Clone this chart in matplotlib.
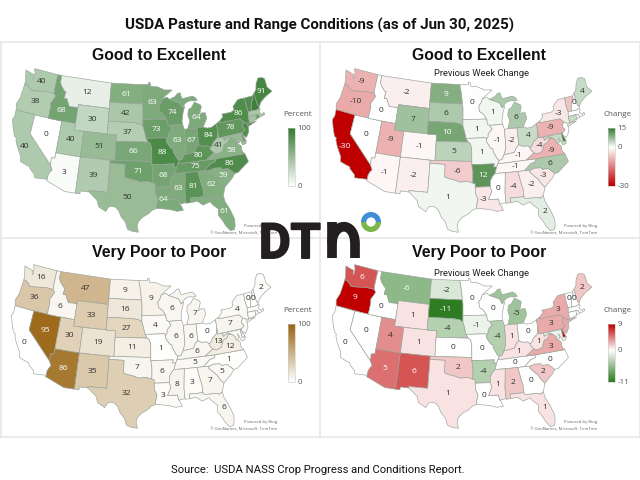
import numpy as np
import matplotlib
matplotlib.use("Agg")
import matplotlib.pyplot as plt
from matplotlib.colors import LinearSegmentedColormap, Normalize, TwoSlopeNorm
from matplotlib.patches import Circle, Polygon, Rectangle, Wedge, PathPatch
from matplotlib.path import Path
from matplotlib.patheffects import withStroke

STATES = ["WA", "OR", "CA", "NV", "ID", "MT", "WY", "UT", "AZ", "CO", "NM", "ND", "SD", "NE", "KS", "OK", "TX",
          "MN", "IA", "MO", "AR", "LA", "WI", "IL", "MI", "IN", "OH", "KY", "TN", "MS", "AL", "GA", "FL", "SC",
          "NC", "VA", "WV", "PA", "NY", "ME", "VT", "NH", "MA", "CT", "RI", "NJ", "DE", "MD"]
GOOD = [40, 38, 40, 0, 68, 12, 30, 40, 3, 51, 39, 61, 42, 37, 66, 71, 50,
        63, 73, 88, 68, 64, 74, 63, 64, 67, 84, 80, 75, 63, 81, 62, 61, 59,
        86, 58, 41, 78, 86, 91, 85, 95, 42, 45, 75, 85, 72, 52]
GOOD_CHG = [-9, -10, -30, 0, 0, -2, 7, -9, -1, -1, -2, 9, 6, 10, 5, -6, 1,
            0, 1, 1, 12, -3, 1, -1, 6, -2, 4, -1, -1, 0, -4, -2, 2, -3,
            6, -9, -4, -9, -3, 4, -7, 0, 0, 4, 0, 0, 15, 4]
POOR = [16, 36, 0, 95, 6, 47, 33, 30, 86, 19, 35, 9, 16, 27, 11, 7, 32,
        9, 4, 1, 6, 3, 6, 6, 7, 6, 0, 6, 5, 8, 3, 7, 6, 5,
        1, 12, 13, 7, 4, 2, 0, 0, 1, 1, 0, 3, 4, 4]
POOR_CHG = [6, 9, 0, 0, 0, -6, 1, 4, 5, 1, 6, -2, -11, -4, 0, 2, 1,
            0, -1, 0, -4, 0, 0, -4, -5, 1, 0, 1, 0, 1, 2, 0, 1, 2,
            0, 3, 1, 3, 3, 2, 0, 0, 0, 0, 0, 3, 9, -1]
SMALL = ["MA", "CT", "RI", "NJ", "DE", "MD"]

OUTLINES = {
    "WA": [(-124.7, 48.4), (-123.2, 48.15), (-122.7, 48.1), (-122.5, 47.4), (-122.3, 47.6), (-122.4, 48.3), (-122.8, 49), (-117.03, 49), (-117.04, 46.42), (-116.92, 45.99), (-118.98, 46), (-119.3, 45.93), (-121.2, 45.65), (-122.3, 45.55), (-122.8, 45.9), (-123.4, 46.2), (-124, 46.27), (-124.1, 46.9)],
    "OR": [(-124, 46.27), (-123.4, 46.2), (-122.8, 45.9), (-122.3, 45.55), (-121.2, 45.65), (-119.3, 45.93), (-118.98, 46), (-116.92, 45.99), (-116.47, 45.6), (-116.85, 44.95), (-117.22, 44.4), (-117.03, 43.83), (-117.03, 42), (-124.2, 42), (-124.55, 42.85), (-124.1, 44)],
    "CA": [(-124.2, 42), (-120, 42), (-120, 39), (-114.63, 35), (-114.14, 34.3), (-114.43, 34), (-114.72, 33.4), (-114.72, 32.72), (-117.12, 32.53), (-117.3, 33), (-118.4, 33.75), (-118.5, 34.03), (-119.2, 34.15), (-120.5, 34.45), (-120.65, 35.15), (-121.9, 36.6), (-122.5, 37.5), (-122.5, 37.8), (-123, 38), (-123.8, 39.3), (-124.35, 40.4), (-124.1, 41)],
    "NV": [(-120, 42), (-114.04, 42), (-114.04, 36.2), (-114.75, 36.1), (-114.63, 35), (-120, 39)],
    "ID": [(-117.03, 49), (-116.05, 49), (-116.05, 48), (-115.7, 47.45), (-114.7, 46.7), (-114.35, 46.65), (-114.5, 45.55), (-113.9, 45.65), (-113.45, 45.05), (-113, 44.45), (-111.5, 44.55), (-111.05, 44.48), (-111.05, 42), (-117.03, 42), (-117.03, 43.83), (-117.22, 44.4), (-116.85, 44.95), (-116.47, 45.6), (-116.92, 45.99), (-117.04, 46.42)],
    "MT": [(-116.05, 49), (-104.05, 49), (-104.05, 45), (-111.05, 45), (-111.05, 44.48), (-111.5, 44.55), (-113, 44.45), (-113.45, 45.05), (-113.9, 45.65), (-114.5, 45.55), (-114.35, 46.65), (-114.7, 46.7), (-115.7, 47.45), (-116.05, 48)],
    "WY": [(-111.05, 45), (-104.05, 45), (-104.05, 41), (-111.05, 41)],
    "UT": [(-114.04, 42), (-111.05, 42), (-111.05, 41), (-109.05, 41), (-109.05, 37), (-114.04, 37)],
    "AZ": [(-114.04, 37), (-109.05, 37), (-109.05, 31.33), (-111.07, 31.33), (-114.81, 32.5), (-114.72, 32.72), (-114.72, 33.4), (-114.43, 34), (-114.14, 34.3), (-114.63, 35), (-114.75, 36.1), (-114.04, 36.2)],
    "CO": [(-109.05, 41), (-102.05, 41), (-102.05, 37), (-109.05, 37)],
    "NM": [(-109.05, 37), (-103, 37), (-103.04, 32), (-106.62, 32), (-106.53, 31.78), (-108.2, 31.78), (-108.2, 31.33), (-109.05, 31.33)],
    "ND": [(-104.05, 49), (-97.23, 49), (-96.85, 47.6), (-96.56, 45.94), (-104.05, 45.94)],
    "SD": [(-104.05, 45.94), (-96.56, 45.94), (-96.45, 45.3), (-96.45, 43.5), (-96.45, 42.5), (-97.2, 42.85), (-98.5, 43), (-104.05, 43)],
    "NE": [(-104.05, 43), (-98.5, 43), (-97.2, 42.85), (-96.45, 42.5), (-96.1, 41.7), (-95.9, 41), (-95.31, 40), (-102.05, 40), (-102.05, 41), (-104.05, 41)],
    "KS": [(-102.05, 40), (-95.31, 40), (-94.9, 39.8), (-94.61, 39.1), (-94.62, 37), (-102.05, 37)],
    "OK": [(-103, 37), (-94.62, 37), (-94.62, 36.5), (-94.43, 35.4), (-94.48, 33.64), (-95.5, 33.9), (-97, 33.8), (-98, 34.1), (-99.2, 34.3), (-100, 34.56), (-100, 36.5), (-103, 36.5)],
    "TX": [(-103, 36.5), (-100, 36.5), (-100, 34.56), (-99.2, 34.3), (-98, 34.1), (-97, 33.8), (-95.5, 33.9), (-94.48, 33.64), (-94.04, 33.55), (-94.04, 33), (-94.04, 32), (-93.55, 31.2), (-93.85, 30.2), (-93.85, 29.7), (-94.7, 29.4), (-95.3, 28.9), (-96.5, 28.3), (-97.2, 27.6), (-97.4, 26.9), (-97.15, 25.96), (-98.2, 26.07), (-99.1, 26.4), (-99.5, 27.5), (-100.3, 28.3), (-100.8, 29.25), (-101.4, 29.77), (-102.3, 29.88), (-102.7, 29.7), (-103.15, 28.98), (-104.5, 29.65), (-104.9, 30.6), (-106.53, 31.78), (-106.62, 32), (-103.04, 32)],
    "MN": [(-97.23, 49), (-95.15, 49), (-95.15, 49.38), (-94.8, 49.3), (-94.6, 48.72), (-93, 48.6), (-91.4, 48.07), (-89.6, 48), (-92, 46.7), (-92.3, 46.1), (-92.85, 45.6), (-92.75, 44.75), (-91.9, 44.3), (-91.22, 43.5), (-96.45, 43.5), (-96.45, 45.3), (-96.56, 45.94), (-96.85, 47.6)],
    "IA": [(-96.45, 43.5), (-91.22, 43.5), (-91.1, 42.7), (-90.64, 42.5), (-90.15, 41.9), (-91.05, 41.2), (-91.1, 40.7), (-91.42, 40.38), (-91.73, 40.61), (-95.77, 40.58), (-95.9, 41), (-96.1, 41.7), (-96.45, 42.5)],
    "MO": [(-95.77, 40.58), (-91.73, 40.61), (-91.42, 40.38), (-91.5, 40), (-90.7, 39), (-90.2, 38.8), (-90.2, 38.4), (-89.5, 37.3), (-89.13, 36.98), (-89.4, 36.5), (-89.7, 36), (-90.37, 36), (-90.15, 36.5), (-94.62, 36.5), (-94.62, 37), (-94.61, 39.1), (-94.9, 39.8), (-95.31, 40)],
    "AR": [(-94.62, 36.5), (-90.15, 36.5), (-90.37, 36), (-89.7, 36), (-90.1, 35), (-90.6, 34.6), (-91.1, 33.9), (-91.17, 33), (-94.04, 33), (-94.04, 33.55), (-94.48, 33.64), (-94.43, 35.4)],
    "LA": [(-94.04, 33), (-91.17, 33), (-90.9, 32.3), (-91.6, 31), (-89.75, 31), (-89.6, 30.2), (-89.4, 30.05), (-89, 29.2), (-90.2, 29.1), (-91.3, 29.4), (-92.3, 29.55), (-93.85, 29.7), (-93.85, 30.2), (-93.55, 31.2), (-94.04, 32)],
    "WI": [(-92, 46.7), (-90.8, 46.9), (-90.4, 46.55), (-88.1, 45.9), (-87.6, 45.1), (-87, 45.3), (-87.5, 44.3), (-87.9, 43), (-87.8, 42.5), (-90.64, 42.5), (-91.1, 42.7), (-91.22, 43.5), (-91.9, 44.3), (-92.75, 44.75), (-92.85, 45.6), (-92.3, 46.1)],
    "IL": [(-91.42, 40.38), (-91.1, 40.7), (-91.05, 41.2), (-90.15, 41.9), (-90.64, 42.5), (-87.8, 42.5), (-87.52, 41.7), (-87.53, 39.3), (-87.6, 38.7), (-88.05, 37.8), (-88.5, 37.1), (-89.13, 36.98), (-89.5, 37.3), (-90.2, 38.4), (-90.2, 38.8), (-90.7, 39), (-91.5, 40)],
    "MI": [(-86.8, 41.76), (-84.8, 41.72), (-83.45, 41.73), (-83.1, 42.2), (-82.45, 43), (-82.6, 43.9), (-83.4, 43.95), (-83.9, 43.7), (-83.3, 44.9), (-83.4, 45.2), (-84.7, 45.78), (-85.5, 45), (-86.25, 44.7), (-86.5, 43.9), (-86.2, 42.9)],
    "MI2": [(-90.4, 46.55), (-89, 46.95), (-88.4, 47.4), (-87.8, 47.45), (-87.6, 46.85), (-87.4, 46.5), (-86, 46.65), (-85, 46.75), (-84.4, 46.45), (-84, 46), (-84.7, 45.95), (-85.6, 46.05), (-86.6, 45.85), (-87.6, 45.1), (-88.1, 45.9)],
    "IN": [(-87.52, 41.7), (-86.8, 41.76), (-84.8, 41.72), (-84.82, 39.1), (-85.4, 38.73), (-85.9, 38), (-87, 37.9), (-88.05, 37.8), (-87.6, 38.7), (-87.53, 39.3)],
    "OH": [(-84.8, 41.72), (-83.45, 41.73), (-82.7, 41.5), (-81.7, 41.5), (-80.52, 41.98), (-80.52, 40.64), (-80.85, 39.7), (-81.75, 39.2), (-82.2, 38.6), (-82.6, 38.4), (-83, 38.72), (-84.2, 38.8), (-84.82, 39.1)],
    "KY": [(-89.4, 36.5), (-88.07, 36.5), (-83.68, 36.6), (-81.97, 37.54), (-82.6, 38.17), (-82.6, 38.4), (-83, 38.72), (-84.2, 38.8), (-84.82, 39.1), (-85.4, 38.73), (-85.9, 38), (-87, 37.9), (-88.05, 37.8), (-88.5, 37.1), (-89.13, 36.98)],
    "TN": [(-90.1, 35), (-88.2, 35), (-85.6, 35), (-84.32, 35), (-82.9, 35.95), (-82, 36.12), (-81.68, 36.59), (-83.68, 36.6), (-88.07, 36.5), (-89.4, 36.5), (-89.7, 36)],
    "MS": [(-91.17, 33), (-91.1, 33.9), (-90.6, 34.6), (-90.1, 35), (-88.2, 35), (-88.1, 34.9), (-88.45, 31.9), (-88.4, 30.35), (-89.6, 30.2), (-89.75, 31), (-91.6, 31), (-90.9, 32.3)],
    "AL": [(-88.2, 35), (-85.6, 35), (-85.18, 32.87), (-85, 32.3), (-85, 31), (-87.6, 31), (-87.5, 30.3), (-88.4, 30.25), (-88.45, 31.9), (-88.1, 34.9)],
    "GA": [(-85.6, 35), (-83.1, 35), (-83.35, 34.7), (-81.9, 33.4), (-81.4, 32.6), (-80.85, 32.03), (-81.4, 30.75), (-82.05, 30.36), (-82.2, 30.57), (-84.86, 30.7), (-85, 31), (-85, 32.3), (-85.18, 32.87)],
    "FL": [(-87.6, 31), (-85, 31), (-84.86, 30.7), (-82.2, 30.57), (-82.05, 30.36), (-81.4, 30.75), (-81.25, 29.8), (-80.55, 28.4), (-80.03, 26.8), (-80.15, 25.75), (-80.4, 25.2), (-81.1, 25.15), (-81.75, 26), (-82.2, 26.9), (-82.8, 27.8), (-82.65, 28.8), (-83.6, 29.6), (-84, 30.1), (-85.3, 29.7), (-86.3, 30.4), (-87.5, 30.3)],
    "SC": [(-83.35, 34.7), (-83.1, 35), (-82.3, 35.2), (-81.05, 35.1), (-80.8, 34.82), (-79.67, 34.8), (-78.55, 33.86), (-79.2, 33.2), (-80.85, 32.03), (-81.4, 32.6), (-81.9, 33.4)],
    "NC": [(-84.32, 35), (-83.1, 35), (-82.3, 35.2), (-81.05, 35.1), (-80.8, 34.82), (-79.67, 34.8), (-78.55, 33.86), (-77.9, 33.9), (-76.5, 34.7), (-75.5, 35.25), (-75.87, 36.55), (-81.68, 36.59), (-82, 36.12), (-82.9, 35.95)],
    "VA": [(-83.68, 36.6), (-81.68, 36.59), (-75.87, 36.55), (-76.3, 37), (-76.3, 37.9), (-77, 38.3), (-77.05, 38.8), (-77.7, 39.3), (-78.35, 39.4), (-78.9, 38.8), (-79.65, 38.6), (-80.3, 37.55), (-81.3, 37.3), (-81.97, 37.54)],
    "WV": [(-81.97, 37.54), (-81.3, 37.3), (-80.3, 37.55), (-79.65, 38.6), (-78.9, 38.8), (-78.35, 39.4), (-77.7, 39.3), (-78.4, 39.6), (-79.48, 39.2), (-79.48, 39.72), (-80.52, 39.72), (-80.52, 40.64), (-80.85, 39.7), (-81.75, 39.2), (-82.2, 38.6), (-82.6, 38.4), (-82.6, 38.17)],
    "PA": [(-80.52, 41.98), (-79.76, 42.27), (-79.76, 42), (-75.35, 42), (-74.7, 41.36), (-75.1, 40.95), (-75.2, 40.65), (-74.75, 40.2), (-75.4, 39.8), (-80.52, 39.72), (-80.52, 40.64)],
    "NY": [(-79.76, 42.27), (-78.9, 42.85), (-79.05, 43.27), (-77, 43.28), (-76.2, 43.55), (-76.3, 44.1), (-75, 44.95), (-74.7, 45), (-73.35, 45), (-73.4, 43.6), (-73.27, 42.75), (-73.5, 42.05), (-73.5, 41.3), (-73.65, 41), (-72, 41.05), (-73.95, 40.55), (-74.05, 40.7), (-73.9, 41), (-74.7, 41.36), (-75.35, 42), (-79.76, 42)],
    "ME": [(-71.08, 45.3), (-70.4, 45.8), (-70, 46.7), (-69.23, 47.46), (-68.3, 47.35), (-67.8, 47.07), (-67.8, 45.7), (-67, 44.85), (-68.8, 44.3), (-70, 43.75), (-70.7, 43.07), (-70.98, 43.4)],
    "VT": [(-73.35, 45), (-71.5, 45), (-71.5, 44.6), (-72.05, 44.1), (-72.45, 43.1), (-72.46, 42.73), (-73.27, 42.75), (-73.4, 43.6)],
    "NH": [(-71.5, 45), (-71.08, 45.3), (-70.98, 43.4), (-70.7, 43.07), (-70.8, 42.87), (-71.3, 42.7), (-72.46, 42.73), (-72.45, 43.1), (-72.05, 44.1), (-71.5, 44.6)],
    "MA": [(-73.5, 42.05), (-73.27, 42.75), (-72.46, 42.73), (-71.3, 42.7), (-70.8, 42.87), (-70.6, 42.65), (-71, 42.3), (-70.55, 41.8), (-70, 42.05), (-69.95, 41.7), (-70.7, 41.55), (-71.15, 41.5), (-71.38, 42.02), (-71.8, 42.02)],
    "RI": [(-71.8, 42.02), (-71.38, 42.02), (-71.15, 41.5), (-71.85, 41.32)],
    "CT": [(-73.5, 42.05), (-71.8, 42.02), (-71.85, 41.32), (-73.65, 41), (-73.5, 41.3)],
    "NJ": [(-74.7, 41.36), (-73.9, 41), (-74.05, 40.7), (-74, 40.4), (-74.1, 39.75), (-74.9, 38.93), (-75.55, 39.5), (-75.4, 39.8), (-74.75, 40.2), (-75.2, 40.65), (-75.1, 40.95)],
    "DE": [(-75.79, 39.72), (-75.4, 39.8), (-75.55, 39.5), (-75.05, 38.45), (-75.7, 38.46)],
    "MD": [(-79.48, 39.72), (-75.79, 39.72), (-75.7, 38.46), (-75.05, 38.45), (-75.25, 38.03), (-75.9, 37.95), (-76.2, 38.6), (-76.5, 39.2), (-76.45, 38.4), (-77, 38.3), (-77.05, 38.8), (-77.7, 39.3), (-78.4, 39.6), (-79.48, 39.2)],
}

LABEL_AT = {
    "WA": (-120.4, 47.35), "OR": (-120.6, 44), "CA": (-120.4, 36.9), "NV": (-116.7, 39.5), "ID": (-114.6, 43.6),
    "MT": (-109.6, 47), "WY": (-107.5, 43), "UT": (-111.6, 39.4), "AZ": (-111.7, 34.3), "CO": (-105.5, 39),
    "NM": (-106, 34.4), "ND": (-100.4, 47.4), "SD": (-100.3, 44.4), "NE": (-99.8, 41.5), "KS": (-98.4, 38.5),
    "OK": (-97.4, 35.5), "TX": (-99.3, 31.4), "MN": (-94.4, 46.1), "IA": (-93.5, 42), "MO": (-92.5, 38.3),
    "AR": (-92.4, 34.8), "LA": (-92.5, 31), "WI": (-89.8, 44.5), "IL": (-89.2, 40), "MI": (-84.7, 43.4),
    "IN": (-86.2, 39.9), "OH": (-82.7, 40.3), "KY": (-85.2, 37.5), "TN": (-86, 35.8), "MS": (-89.7, 32.7),
    "AL": (-86.8, 32.8), "GA": (-83.4, 32.7), "FL": (-81.6, 28.2), "SC": (-80.9, 33.8), "NC": (-79.2, 35.5),
    "VA": (-78.5, 37.4), "WV": (-80.7, 38.6), "PA": (-77.7, 40.9), "NY": (-75.4, 42.9), "ME": (-69.2, 45.3),
    "VT": (-72.7, 44.1), "NH": (-71.5, 43.9),
}

PANELS = [
    {"title": "Good to Excellent", "sub": None, "vals": GOOD, "colors": ["#ffffff", "#347a30"], "lo": 0, "hi": 100,
     "cb": "Percent", "ticks": [100, 0], "dx": 0, "dy": 0, "hide": ["VT", "NH"]},
    {"title": "Good to Excellent", "sub": "Previous Week Change", "vals": GOOD_CHG, "colors": ["#c00000", "#ffffff", "#347a30"], "lo": -30, "hi": 15,
     "cb": "Change", "ticks": [15, 0, -30], "dx": 320, "dy": 0, "hide": ["VT"]},
    {"title": "Very Poor to Poor", "sub": None, "vals": POOR, "colors": ["#ffffff", "#986410"], "lo": 0, "hi": 100,
     "cb": "Percent", "ticks": [100, 0], "dx": -1, "dy": 196, "hide": []},
    {"title": "Very Poor to Poor", "sub": "Previous Week Change", "vals": POOR_CHG, "colors": ["#2e7d23", "#ffffff", "#c00000"], "lo": -11, "hi": 9,
     "cb": "Change", "ticks": [9, 0, -11], "dx": 320, "dy": 196, "hide": []},
]


def albers(lon, lat):
    p1, p2, p0, l0 = np.radians([29.5, 45.5, 37.5, -96])
    n = (np.sin(p1) + np.sin(p2)) / 2
    c = np.cos(p1) ** 2 + 2 * n * np.sin(p1)
    rho0 = 6371 * np.sqrt(c - 2 * n * np.sin(p0)) / n
    rho = 6371 * np.sqrt(c - 2 * n * np.sin(np.radians(lat))) / n
    th = n * (np.radians(lon) - l0)
    return rho * np.sin(th), rho0 - rho * np.cos(th)


def to_px(lon, lat, dx, dy):
    x, y = albers(np.asarray(lon, float), np.asarray(lat, float))
    return 145 + dx + 0.0565 * x, 158.3 + dy - 0.0575 * y


def fit_width(txt, width):
    size = txt.get_fontsize()
    box = txt.get_window_extent(fig.canvas.get_renderer())
    txt.set_fontsize(size * width / box.width)


plt.rcParams["font.family"] = ["Open Sans", "DejaVu Sans"]
fig = plt.figure(figsize=(6.4, 4.8), dpi=100)
ax = fig.add_axes([0, 0, 1, 1])
ax.set_xlim(0, 640)
ax.set_ylim(480, 0)

# frame lines between the four maps
for y in [42, 238, 437]:
    ax.plot([0, 640], [y, y], color="#e6e6e6", lw=1.1, zorder=1)
for x in [0.5, 320, 639.5]:
    ax.plot([x, x], [42, 437], color="#e6e6e6", lw=1.1, zorder=1)

for p in PANELS:
    cmap = LinearSegmentedColormap.from_list("c", p["colors"])
    if len(p["colors"]) == 3:
        norm = TwoSlopeNorm(vmin=p["lo"], vcenter=0, vmax=p["hi"])
    else:
        norm = Normalize(p["lo"], p["hi"])
    dx, dy = p["dx"], p["dy"]
    for code, val in zip(STATES, p["vals"]):
        parts = [code, "MI2"] if code == "MI" else [code]
        for part in parts:
            lon, lat = zip(*OUTLINES[part])
            xs, ys = to_px(lon, lat, dx, dy)
            ax.add_patch(Polygon(np.column_stack([xs, ys]), closed=True, facecolor=cmap(norm(val)),
                                 edgecolor="#9aa39a", lw=0.45, zorder=3))
        if code in SMALL or code in p["hide"]:
            continue
        lx, ly = to_px(*LABEL_AT[code], dx, dy)
        strength = abs(val) / (abs(p["hi"]) if val >= 0 else abs(p["lo"]))
        ax.text(lx, ly, str(val), ha="center", va="center", fontsize=6, zorder=5,
                color="white" if strength >= 0.54 else "#303030")

    right = dx >= 320
    top = 56 if dy == 0 else 252
    head = ax.text(479 if right else 159.5, top, p["title"], ha="center", va="center", fontsize=11.4, weight="bold",
                   family="Liberation Sans", color="#111111", zorder=6)
    fit_width(head, 135)
    if p["sub"]:
        sub = ax.text(481.5, 74 if dy == 0 else 274, p["sub"], ha="center", va="center", fontsize=6.8, color="#222222",
                      family=["Liberation Sans Narrow", "Roboto"], zorder=6)
        fit_width(sub, 96)

    # legend bar
    base = 320 if right else 0
    y0 = 128 if dy == 0 else 324
    y1 = y0 + 58
    bar = np.linspace(p["hi"], p["lo"], 64).reshape(-1, 1)
    ax.imshow(bar, cmap=cmap, norm=norm, extent=[288 + base, 294.5 + base, y1, y0], aspect="auto", zorder=4)
    ax.add_patch(Rectangle((288 + base, y0), 6.5, 58, fill=False, ec="#c8c8c8", lw=0.4, zorder=4))
    ax.text(297.5 + base, y0 - 13, p["cb"], ha="center", va="center", fontsize=5.8, color="#555555", zorder=6)
    for t in p["ticks"]:
        ty = y0 + 58 * (p["hi"] - t) / (p["hi"] - p["lo"])
        ax.text(297.5 + base, ty, str(t), ha="left", va="center", fontsize=5.8, color="#555555", zorder=6)

    low = 0 if dy == 0 else 196
    ax.text(277 + base, 226 + low, "Powered by Bing", ha="right", va="center", fontsize=3.1, color="#666666", zorder=6)
    ax.text(277 + base, 233 + low, "© GeoNames, Microsoft, TomTom", ha="right", va="center", fontsize=3.1, color="#666666", zorder=6)

title = ax.text(320, 25, "USDA Pasture and Range Conditions (as of Jun 30, 2025)", ha="center", va="center", fontsize=11.3,
                weight="bold", family=["Liberation Sans Narrow", "Roboto"], color="#111111")
fit_width(title, 391)
source = ax.text(317.5, 470, "Source:  USDA NASS Crop Progress and Conditions Report.", ha="center", va="center", fontsize=8.6,
                 family=["Liberation Sans Narrow", "Roboto"], color="#111111")
fit_width(source, 294)

# DTN logo
thick = [withStroke(linewidth=1.4, foreground="#231f20")]
ax.text(259, 240, "DT", ha="left", va="center_baseline", fontsize=35, weight="bold", family="Roboto", color="#231f20",
        zorder=8, path_effects=thick)
stem = Path([(332, 258), (332, 222)])
arch = Path([(332, 244), (332, 222), (355, 220), (355, 244), (355, 258)],
            [Path.MOVETO, Path.CURVE4, Path.CURVE4, Path.CURVE4, Path.LINETO])
for shape in [stem, arch]:
    ax.add_patch(PathPatch(shape, fill=False, ec="#231f20", lw=7, capstyle="butt", zorder=8))
ax.add_patch(Wedge((371, 222), 10, 180, 360, width=5.5, fc="#3f8fd8", ec="none", zorder=8))
ax.add_patch(Wedge((371, 222), 10, 0, 180, width=5.5, fc="#7ab648", ec="none", zorder=8))
ax.add_patch(Circle((371, 222), 4.5, fc="white", ec="none", zorder=9))

ax.set_xlim(0, 640)
ax.set_ylim(480, 0)
ax.axis("off")
fig.savefig("out.png", dpi=100)
